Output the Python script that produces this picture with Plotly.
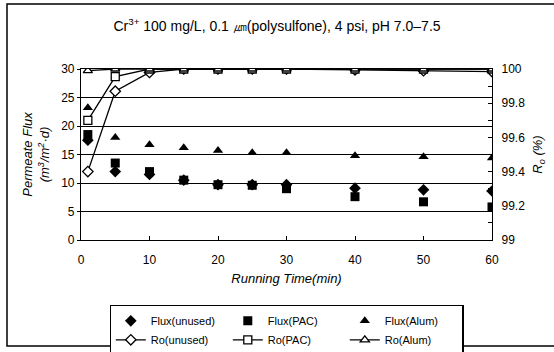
import plotly.graph_objects as go

time_min = [1, 5, 10, 15, 20, 25, 30, 40, 50, 60]
flux_unused = [17.5, 12.0, 11.5, 10.5, 9.7, 9.7, 9.7, 9.1, 8.8, 8.6]
flux_pac = [18.5, 13.5, 12.0, 10.5, 9.7, 9.6, 9.0, 7.6, 6.7, 5.8]
flux_alum = [23.2, 18.0, 16.7, 16.2, 15.7, 15.3, 15.3, 14.8, 14.6, 14.4]
ro_unused = [99.40, 99.87, 99.98, 100.0, 100.0, 100.0, 100.0, 99.995, 99.99, 99.985]
ro_pac = [99.70, 99.955, 100.0, 100.0, 100.0, 100.0, 100.0, 100.0, 100.0, 100.0]
ro_alum = [99.99, 100.0, 100.0, 100.0, 100.0, 100.0, 100.0, 100.0, 100.0, 100.0]

FONT = "Liberation Sans, Arial, sans-serif"

fig = go.Figure()
fig.add_trace(go.Scatter(x=time_min, y=flux_unused, mode="markers", name="Flux(unused)",
                         marker=dict(symbol="diamond", size=9, color="black")))
fig.add_trace(go.Scatter(x=time_min, y=flux_pac, mode="markers", name="Flux(PAC)",
                         marker=dict(symbol="square", size=9, color="black")))
fig.add_trace(go.Scatter(x=time_min, y=flux_alum, mode="markers", name="Flux(Alum)",
                         marker=dict(symbol="triangle-up", size=9, color="black")))
fig.add_trace(go.Scatter(x=time_min, y=ro_unused, mode="lines+markers", name="Ro(unused)", yaxis="y2",
                         line=dict(color="black", width=1.3),
                         marker=dict(symbol="diamond", size=8, color="white", line=dict(color="black", width=1.3))))
fig.add_trace(go.Scatter(x=time_min, y=ro_pac, mode="lines+markers", name="Ro(PAC)", yaxis="y2",
                         line=dict(color="black", width=1.3),
                         marker=dict(symbol="square", size=8, color="white", line=dict(color="black", width=1.3))))
fig.add_trace(go.Scatter(x=time_min, y=ro_alum, mode="lines+markers", name="Ro(Alum)", yaxis="y2",
                         line=dict(color="black", width=1.3),
                         marker=dict(symbol="triangle-up", size=8, color="white", line=dict(color="black", width=1.3))))

fig.update_layout(
    width=554, height=352,
    margin=dict(l=81, r=62, t=69, b=112, autoexpand=False),
    paper_bgcolor="white", plot_bgcolor="white",
    font=dict(family=FONT, size=12, color="black"),
    showlegend=True,
    title=dict(text="Cr<sup>3+</sup> 100 mg/L, 0.1 ㎛(polysulfone), 4 psi, pH 7.0–7.5",
               x=0.5, xanchor="center", y=0.925, yanchor="middle",
               font=dict(family=FONT, size=14, color="black")),
    xaxis=dict(range=[0, 60], dtick=10, tick0=0, showgrid=False, zeroline=False,
               showline=True, linecolor="black", linewidth=1.2, mirror=True,
               ticks="inside", ticklen=4, tickcolor="black", automargin=False,
               ticklabelstandoff=8,
               title=dict(text="<i>Running Time(min)</i>", standoff=8, font=dict(size=13))),
    yaxis=dict(range=[0, 30], dtick=5, showgrid=True, gridcolor="black", gridwidth=1, zeroline=False,
               showline=True, linecolor="black", linewidth=1.2, automargin=False,
               ticks="outside", ticklen=3, tickcolor="black",
               title=dict(text="<i>Permeate Flux</i><br><i>(m<sup>3</sup>/m<sup>2</sup>·d)</i>", standoff=8,
                          font=dict(size=13))),
    yaxis2=dict(range=[99, 100], dtick=0.2, overlaying="y", side="right", showgrid=False, zeroline=False,
                showline=True, linecolor="black", linewidth=1.2, automargin=False,
                ticks="inside", ticklen=4, tickcolor="black", ticklabelstandoff=6,
                minor=dict(dtick=0.1, ticks="inside", ticklen=4, tickcolor="black"),
                title=dict(text="<i>R<sub>o</sub> (%)</i>", standoff=8, font=dict(size=13))),
    legend=dict(orientation="h", x=0.5, xanchor="center", y=(240 - 305) / 171, yanchor="top",
                bordercolor="black", borderwidth=1.3, bgcolor="white",
                entrywidth=72, tracegroupgap=0, itemwidth=30,
                font=dict(family=FONT, size=11, color="black")),
    shapes=[dict(type="rect", xref="paper", yref="paper",
                 x0=(7 - 81) / 411, x1=(560 - 81) / 411,
                 y0=(240 - 346) / 171, y1=(240 - 4) / 171,
                 line=dict(color="black", width=1.5), fillcolor="rgba(0,0,0,0)", layer="below")],
)

fig.write_html("out.html", post_script="document.body.style.margin='0px';",
               config={"displayModeBar": False})
